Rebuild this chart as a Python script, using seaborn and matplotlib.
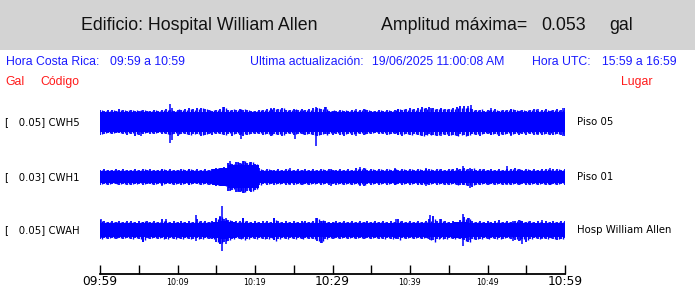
import numpy as np
import matplotlib
matplotlib.use("Agg")
import matplotlib.pyplot as plt
import seaborn as sns
from matplotlib.patches import Rectangle
from matplotlib.transforms import blended_transform_factory

# ---------------- data ----------------
minutes = list(range(61))                     # minutes after 09:59 (local time)
half_minutes = [k / 2 for k in range(121)]    # 30-second steps
tick_minutes = list(range(0, 61, 5))
tick_labels = ["09:59", "", "10:09", "", "10:19", "", "10:29", "", "10:39", "", "10:49", "", "10:59"]
big_ticks = ["09:59", "10:29", "10:59"]

codes = ["CWH5", "CWH1", "CWAH"]
scales = ["0.05", "0.03", "0.05"]
places = ["Piso 05", "Piso 01", "Hosp William Allen"]

# solid body of each trace per minute (display amplitude units, up / down)
cwh5_body_up = [10] * 61
cwh5_body_dn = [10] * 61
cwh1_body_up = [6, 6, 6, 6, 6, 6, 6, 6, 6, 6,
                6, 6, 6, 6, 6, 8, 9, 12, 12, 12,
                12, 6, 6, 6, 6, 6, 6, 6, 6, 6,
                6, 6, 6, 6, 6, 6, 6, 6, 6, 6,
                6, 6, 6, 6, 6, 6, 6, 6, 6, 6,
                6, 6, 6, 6, 6, 6, 6, 6, 6, 6, 6]
cwh1_body_dn = [6, 6, 6, 6, 6, 6, 6, 6, 6, 6,
                6, 6, 6, 6, 6, 8, 9, 11, 11, 11,
                11, 6, 6, 6, 6, 6, 6, 6, 6, 6,
                6, 6, 6, 6, 6, 6, 6, 6, 6, 6,
                6, 6, 6, 6, 6, 6, 6, 6, 6, 6,
                6, 6, 6, 6, 6, 6, 6, 6, 6, 6, 6]
cwah_body_up = [7, 7, 7, 7, 7, 7, 7, 7, 7, 7,
                7, 7, 7, 7, 7, 8, 9, 8, 7, 7,
                7, 7, 7, 7, 7, 7, 7, 7, 7, 7,
                7, 7, 7, 7, 7, 7, 7, 7, 7, 7,
                7, 7, 7, 7, 7, 7, 8, 8, 7, 7,
                7, 7, 7, 7, 7, 7, 7, 7, 7, 7, 7]
cwah_body_dn = cwah_body_up[:]

# outer extent of the oscillation every 30 s (up / down)
cwh5_peak_up = [12, 11, 12, 12, 11, 13, 12, 11, 12, 11, 11,
                12, 11, 11, 12, 11, 12, 13, 12, 11, 12,
                12, 13, 14, 13, 14, 14, 13, 12, 11, 12,
                13, 15, 12, 12, 12, 13, 12, 12, 11, 11,
                12, 12, 13, 13, 14, 13, 14, 12, 12, 13,
                12, 13, 12, 13, 14, 14, 13, 15, 11, 11,
                11, 12, 11, 11, 12, 11, 12, 13, 12, 11,
                11, 12, 11, 12, 11, 12, 13, 12, 13, 14,
                13, 14, 15, 14, 15, 14, 13, 14, 13, 13,
                14, 15, 16, 16, 14, 13, 12, 12, 11, 12,
                12, 13, 11, 12, 12, 13, 12, 11, 12, 11,
                12, 13, 11, 12, 13, 11, 12, 13, 12, 14]
cwh5_peak_dn = [13, 12, 11, 12, 11, 11, 12, 13, 12, 14, 13,
                12, 11, 12, 12, 11, 12, 12, 13, 12, 14,
                12, 12, 13, 12, 12, 14, 13, 12, 13, 12,
                12, 13, 12, 14, 12, 13, 14, 13, 12, 12,
                12, 13, 12, 14, 12, 13, 14, 12, 12, 13,
                12, 12, 13, 12, 13, 14, 13, 12, 12, 13,
                12, 13, 14, 12, 13, 12, 12, 13, 12, 12,
                11, 12, 12, 13, 12, 12, 13, 14, 12, 13,
                12, 13, 14, 13, 12, 13, 14, 12, 13, 14,
                13, 14, 12, 13, 14, 12, 13, 14, 12, 12,
                13, 12, 14, 13, 12, 13, 12, 13, 12, 13,
                12, 13, 12, 13, 12, 13, 13, 12, 13, 14]
cwh1_peak_up = [7, 8, 7, 7, 8, 7, 8, 7, 7, 8, 7,
                8, 7, 8, 7, 7, 8, 7, 8, 7, 7,
                8, 7, 8, 7, 8, 7, 8, 7, 8, 9,
                9, 10, 14, 13, 15, 14, 16, 14, 15, 13,
                9, 7, 8, 7, 7, 8, 7, 8, 7, 7,
                8, 7, 8, 7, 8, 7, 8, 7, 8, 7,
                7, 8, 7, 8, 7, 9, 8, 9, 7, 8,
                7, 8, 7, 8, 7, 8, 7, 8, 7, 8,
                7, 8, 7, 8, 8, 7, 8, 8, 7, 8,
                8, 9, 8, 9, 8, 8, 7, 8, 8, 7,
                8, 7, 8, 7, 8, 8, 9, 8, 7, 8,
                7, 8, 7, 8, 8, 7, 8, 8, 7, 8]
cwh1_peak_dn = [8, 7, 8, 7, 7, 8, 7, 8, 8, 7, 7,
                8, 7, 7, 8, 7, 8, 7, 7, 8, 7,
                8, 7, 8, 7, 7, 8, 7, 8, 7, 9,
                9, 9, 14, 13, 15, 15, 16, 14, 15, 13,
                8, 7, 8, 7, 8, 7, 7, 8, 7, 8,
                7, 8, 7, 8, 7, 7, 8, 7, 8, 7,
                8, 7, 8, 7, 8, 7, 8, 9, 7, 8,
                7, 8, 7, 8, 7, 8, 7, 8, 7, 8,
                7, 8, 8, 7, 8, 7, 8, 7, 8, 8,
                7, 8, 8, 8, 9, 10, 8, 8, 7, 8,
                7, 8, 7, 8, 7, 8, 7, 8, 7, 8,
                8, 7, 8, 7, 8, 8, 7, 8, 7, 8]
cwah_peak_up = [10, 9, 8, 9, 8, 9, 8, 9, 9, 8, 9,
                8, 9, 8, 9, 8, 11, 9, 8, 9, 8,
                9, 8, 9, 8, 11, 9, 9, 8, 9, 12,
                13, 11, 10, 9, 9, 9, 12, 9, 8, 9,
                8, 9, 9, 8, 12, 9, 8, 9, 8, 9,
                8, 9, 9, 8, 9, 12, 9, 9, 8, 8,
                9, 8, 9, 8, 9, 8, 9, 8, 9, 8,
                9, 8, 9, 8, 9, 8, 11, 9, 8, 9,
                8, 9, 8, 9, 11, 14, 9, 11, 9, 8,
                9, 8, 10, 13, 12, 9, 8, 9, 8, 9,
                8, 9, 10, 8, 9, 8, 9, 10, 9, 8,
                9, 8, 9, 8, 9, 8, 9, 8, 9, 9]
cwah_peak_dn = [9, 8, 9, 8, 9, 8, 9, 8, 9, 8, 9,
                12, 8, 9, 8, 9, 8, 9, 8, 9, 8,
                9, 8, 9, 9, 8, 9, 8, 9, 9, 12,
                14, 12, 11, 9, 8, 9, 8, 9, 8, 9,
                8, 9, 9, 8, 10, 9, 8, 9, 8, 9,
                8, 9, 8, 9, 9, 11, 13, 9, 8, 9,
                8, 9, 8, 9, 8, 9, 8, 9, 8, 9,
                8, 9, 9, 8, 9, 8, 9, 8, 9, 8,
                9, 8, 9, 8, 9, 10, 9, 8, 9, 8,
                9, 8, 9, 10, 12, 9, 10, 9, 8, 9,
                8, 9, 8, 9, 8, 9, 10, 11, 9, 12,
                9, 8, 9, 8, 9, 8, 9, 10, 9, 8]

# isolated large peaks: minute, upward, downward
cwh5_spk_t = [5.3, 9.0, 9.3, 15.9, 18.2, 22.0, 25.2, 27.9, 29.2, 33.0, 38.5, 42.7, 44.0, 47.5, 47.9, 50.5, 53.0, 56.5, 59.7]
cwh5_spk_up = [11, 18, 14, 15, 12, 14, 12, 15, 15, 13, 13, 14, 13, 16, 17, 14, 13, 13, 14]
cwh5_spk_dn = [14, 21, 18, 11, 17, 12, 17, 24, 12, 14, 13, 13, 14, 13, 12, 13, 14, 13, 14]
cwh1_spk_t = [8.0, 11.5, 16.8, 17.8, 18.6, 19.3, 24.5, 29.8, 33.5, 38.0, 42.0, 46.8, 47.7, 52.5, 58.0]
cwh1_spk_up = [8, 8, 16, 15, 16, 15, 9, 8, 10, 9, 9, 11, 9, 11, 9]
cwh1_spk_dn = [9, 8, 14, 15, 16, 14, 8, 9, 9, 8, 9, 8, 11, 8, 8]
cwah_spk_t = [0.1, 5.5, 8.5, 12.4, 15.5, 15.8, 16.2, 18.5, 22.5, 27.9, 28.6, 38.2, 42.6, 43.9, 46.9, 47.6, 53.3, 54.4, 57.0]
cwah_spk_up = [11, 8, 11, 15, 14, 24, 12, 12, 12, 12, 9, 11, 15, 11, 16, 12, 9, 9, 10]
cwah_spk_dn = [8, 12, 8, 11, 14, 21, 14, 9, 10, 9, 13, 9, 10, 9, 16, 10, 11, 14, 9]

# ---------------- style ----------------
sns.set_theme(style="white")
plt.rcParams["font.family"] = ["DejaVu Sans"]
HEAD = "Liberation Sans"

W, H = 695, 288
fig = plt.figure(figsize=(W / 100, H / 100), dpi=100)
fig.patch.set_facecolor("white")
fig.add_artist(Rectangle((0, 1 - 50 / H), 1, 50 / H, transform=fig.transFigure,
                         facecolor="#d3d3d3", edgecolor="none", zorder=0))

def ftext(x, y, s, size, color="black"):
    fig.text(x / W, 1 - y / H, s, fontsize=size, color=color,
             family=HEAD, va="baseline", ha="left")

hs = 12.8
ftext(81, 30, "Edificio: Hospital William Allen", hs, "#111111")
ftext(381, 30, "Amplitud máxima=", hs, "#111111")
ftext(541, 30, "0.053", hs, "#111111")
ftext(609, 30, "gal", hs, "#111111")

bs = 8.8
ftext(6, 65, "Hora Costa Rica:", bs, "#1a1aff")
ftext(110, 65, "09:59 a 10:59", bs, "#1a1aff")
ftext(250.5, 65, "Ultima actualización:", bs, "#1a1aff")
ftext(372, 65, "19/06/2025 11:00:08 AM", bs, "#1a1aff")
ftext(532, 65, "Hora UTC:", bs, "#1a1aff")
ftext(602, 65, "15:59 a 16:59", bs, "#1a1aff")
ftext(5, 85, "Gal", bs, "#ff1a1a")
ftext(40.5, 85, "Código", bs, "#ff1a1a")
ftext(621, 85, "Lugar", bs, "#ff1a1a")

# ---------------- traces ----------------
ax = fig.add_axes([100 / W, (H - 274) / H, 465 / W, (274 - 95) / H])
ax.set_facecolor("none")
ax.set_xlim(0, 60)
ax.set_ylim(274, 95)
row_center = [121.7, 176.7, 230.3]

traces = [
    (cwh5_body_up, cwh5_body_dn, cwh5_peak_up, cwh5_peak_dn, cwh5_spk_t, cwh5_spk_up, cwh5_spk_dn),
    (cwh1_body_up, cwh1_body_dn, cwh1_peak_up, cwh1_peak_dn, cwh1_spk_t, cwh1_spk_up, cwh1_spk_dn),
    (cwah_body_up, cwah_body_dn, cwah_peak_up, cwah_peak_dn, cwah_spk_t, cwah_spk_up, cwah_spk_dn),
]
t = np.array(minutes, dtype=float)
th = np.array(half_minutes, dtype=float)
BLUE = "#0000ff"
for c, (bu, bd, pu, pd, st, su, sd) in zip(row_center, traces):
    bu = np.array(bu, float); bd = np.array(bd, float)
    pu = np.array(pu, float); pd = np.array(pd, float)
    ax.fill_between(t, c - bu, c + bd, step="mid", color=BLUE, lw=0)
    ax.vlines(th, c - pu, c + pd, color=BLUE, lw=1.3)
    ax.vlines(th + 0.25, c - (pu + pd) / 2 + 0.5, c + (pu + pd) / 2 - 0.5, color=BLUE, lw=1.0)
    ax.vlines(np.array(st), c - np.array(su), c + np.array(sd), color=BLUE, lw=1.1)

sns.despine(ax=ax, left=True, top=True, right=True)
ax.spines["bottom"].set_color("black")
ax.spines["bottom"].set_linewidth(1.3)
ax.set_yticks([])
ax.grid(False)
ax.set_xticks(tick_minutes)
ax.set_xticklabels(tick_labels)
ax.tick_params(axis="x", bottom=True, direction="in", length=6.5, width=1.0,
               color="black", pad=7.9, labelcolor="black")
for lab in ax.get_xticklabels():
    lab.set_fontsize(8.8 if lab.get_text() in big_ticks else 5.8)
    lab.set_verticalalignment("baseline")

trans = blended_transform_factory(fig.transFigure, ax.transData)
for c, code, sc, pl in zip(row_center, codes, scales, places):
    ax.text(5 / W, c, f"[   {sc}] {code}", transform=trans, fontsize=7.3,
            va="center", ha="left", color="black", clip_on=False)
    ax.text(577 / W, c, pl, transform=trans, fontsize=7.3,
            va="center", ha="left", color="black", clip_on=False)

fig.savefig("out.png", dpi=100, facecolor="white")
